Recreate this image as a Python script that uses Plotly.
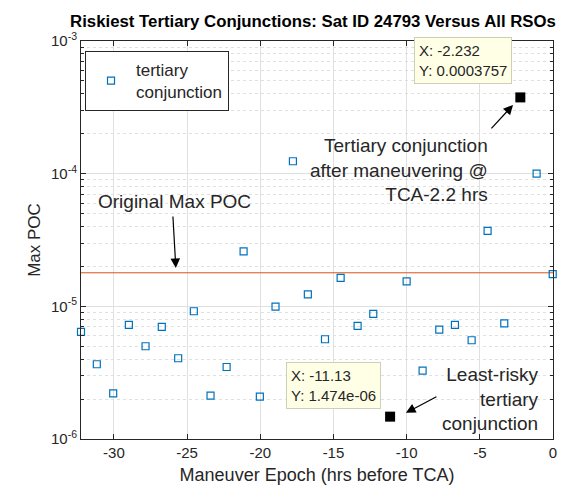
import numpy as np
import plotly.graph_objects as go

# ---- data ----
epoch_hrs = [-32.25, -31.17, -30.05, -28.98, -27.84, -26.73, -25.61, -24.54, -23.40, -22.30,
             -21.14, -20.03, -18.96, -17.77, -16.75, -15.58, -14.51, -13.35, -12.28, -10.00,
             -8.91, -7.77, -6.70, -5.56, -4.47, -3.33, -1.12, -0.02]
max_poc = [6.41e-6, 3.66e-6, 2.21e-6, 7.24e-6, 5.00e-6, 7.00e-6, 4.06e-6, 9.18e-6, 2.12e-6, 3.49e-6,
           2.60e-5, 2.09e-6, 9.95e-6, 1.24e-4, 1.23e-5, 5.65e-6, 1.64e-5, 7.12e-6, 8.77e-6, 1.54e-5,
           3.28e-6, 6.68e-6, 7.24e-6, 5.55e-6, 3.70e-5, 7.45e-6, 1.00e-4, 1.75e-5]
tip_x = [-2.232, -11.13]
tip_y = [0.0003757, 1.474e-06]
tip_labels = ["X: -2.232<br>Y: 0.0003757", "X: -11.13<br>Y: 1.474e-06"]
original_max_poc = 1.79e-5
x_range = [-32.25, 0]
x_ticks = [-30, -25, -20, -15, -10, -5, 0]
x_ticktext = ["-30", "-25", "-20", "-15", "-10", "-5", "0"]
y_ticks = [1e-6, 1e-5, 1e-4, 1e-3]
y_ticktext = ["10<sup>-6</sup>", "10<sup>-5</sup>", "10<sup>-4</sup>", "10<sup>-3</sup>"]

FONT = "Liberation Sans, Arial, Helvetica, sans-serif"
INK = "#262626"
GRID = "#e0e0e0"

fig = go.Figure()

# original max POC line
fig.add_trace(go.Scatter(x=x_range, y=[original_max_poc, original_max_poc], mode="lines",
                         line=dict(color="#D95319", width=1), showlegend=False, hoverinfo="skip"))

fig.add_trace(go.Scatter(x=epoch_hrs, y=max_poc, mode="markers", name="tertiary<br>conjunction",
                         marker=dict(symbol="square-open", size=7, color="#0072BD",
                                     line=dict(width=1.2, color="#0072BD")),
                         cliponaxis=False))

fig.add_trace(go.Scatter(x=tip_x, y=tip_y, mode="markers", showlegend=False,
                         marker=dict(symbol="square", size=10, color="black"), cliponaxis=False))

annotations = []
# datatips
shifts = [(-8, 13), (-9, 8)]
for tx, ty, lab, (xs, ys) in zip(tip_x, tip_y, tip_labels, shifts):
    annotations.append(dict(x=tx, y=np.log10(ty), xref="x", yref="y", text=lab, showarrow=False,
                            xanchor="right", yanchor="bottom", xshift=xs, yshift=ys, align="left",
                            bgcolor="#FFFFE6", bordercolor="#CFCFB8", borderwidth=1, borderpad=4,
                            font=dict(family=FONT, size=15, color=INK)))

# text annotations
annotations.append(dict(x=-25.84, y=-4.206, xref="x", yref="y", text="Original Max POC",
                        showarrow=False, font=dict(family=FONT, size=19, color=INK)))
annotations.append(dict(x=-4.31, y=-3.972, xref="x", yref="y",
                        text="Tertiary conjunction<br>after maneuvering @<br>TCA-2.2 hrs",
                        showarrow=False, xanchor="right", align="right",
                        font=dict(family=FONT, size=19, color=INK)))
annotations.append(dict(x=-0.82, y=-5.698, xref="x", yref="y",
                        text="Least-risky<br>tertiary<br>conjunction",
                        showarrow=False, xanchor="right", align="right",
                        font=dict(family=FONT, size=19, color=INK)))
# arrows
for hx, hy, axo, ayo in [(-25.77, -4.711, -3, -53), (-2.73, -3.482, -23, 25), (-10.05, -5.803, 32, -17)]:
    annotations.append(dict(x=hx, y=hy, xref="x", yref="y", text="", showarrow=True,
                            ax=axo, ay=ayo, arrowhead=2, arrowsize=1.6, arrowwidth=1.2,
                            arrowcolor="black", standoff=0, startstandoff=0))

fig.update_layout(
    width=566, height=485,
    margin=dict(l=73, r=21, t=33, b=54),
    paper_bgcolor="white", plot_bgcolor="white",
    font=dict(family=FONT, color=INK),
    title=dict(text="<b>Riskiest Tertiary Conjunctions: Sat ID 24793 Versus All RSOs</b>",
               x=305 / 566, xref="container", xanchor="center", y=1 - 13 / 485, yref="container",
               yanchor="middle", font=dict(family=FONT, size=16.8, color="black")),
    showlegend=True,
    legend=dict(x=0.0085, y=0.975, xanchor="left", yanchor="top", bgcolor="white",
                bordercolor=INK, borderwidth=1, font=dict(family=FONT, size=17, color=INK),
                itemwidth=40),
    annotations=annotations,
)

fig.update_xaxes(range=x_range, tickvals=x_ticks, ticktext=x_ticktext,
                 showline=True, linecolor=INK, linewidth=1, mirror="ticks",
                 ticks="inside", ticklen=5, tickcolor=INK,
                 showgrid=True, gridcolor=GRID, gridwidth=1, zeroline=False,
                 tickfont=dict(family=FONT, size=15, color=INK),
                 title=dict(text="Maneuver Epoch (hrs before TCA)", standoff=8,
                            font=dict(family=FONT, size=18, color=INK)))
fig.update_yaxes(type="log", range=[-6, -3], tickvals=y_ticks, ticktext=y_ticktext,
                 showline=True, linecolor=INK, linewidth=1, mirror="ticks",
                 ticks="inside", ticklen=5, tickcolor=INK,
                 showgrid=True, gridcolor=GRID, gridwidth=1, zeroline=False,
                 minor=dict(dtick="D1", showgrid=True, gridcolor=GRID, griddash="dot",
                            ticks="inside", ticklen=3, tickcolor=INK),
                 tickfont=dict(family=FONT, size=15, color=INK),
                 title=dict(text="Max POC", standoff=6, font=dict(family=FONT, size=17, color=INK)))

fig.write_html("out.html")
